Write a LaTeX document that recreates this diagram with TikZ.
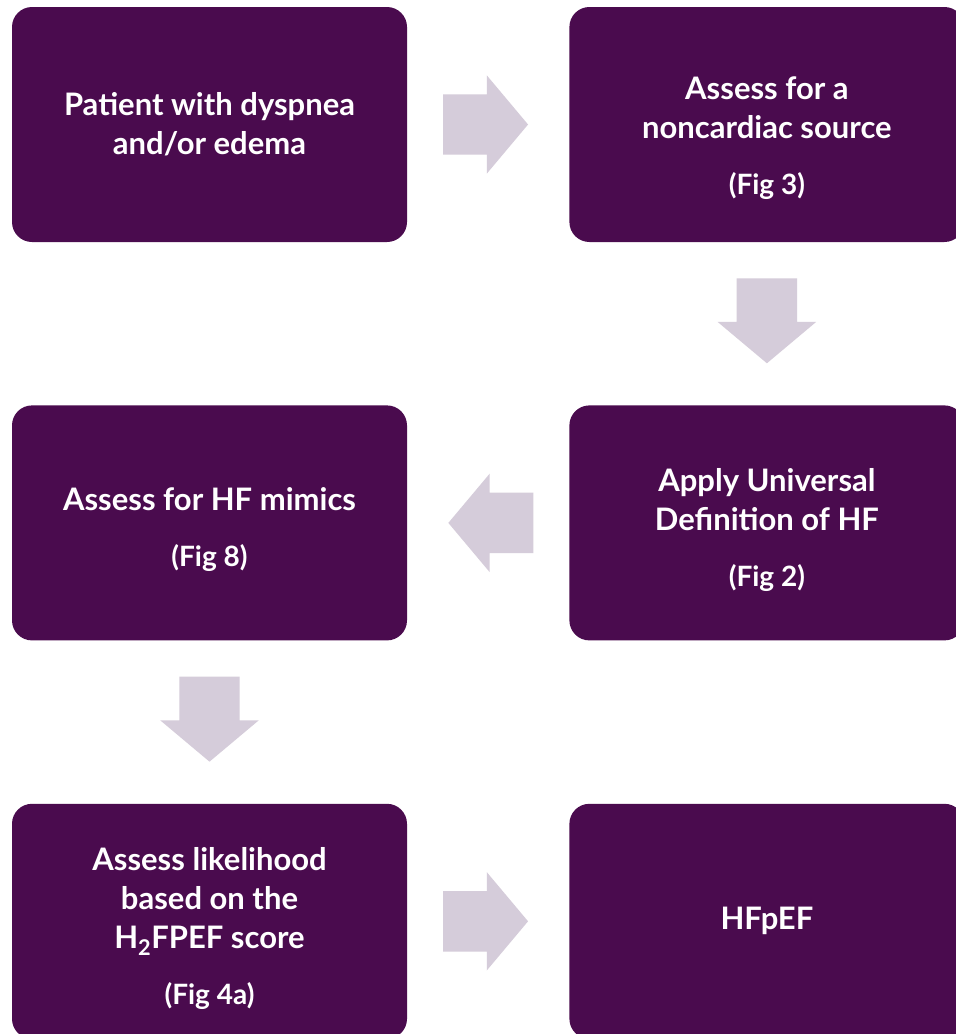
\documentclass[tikz,border=0pt]{standalone}
\usepackage{fontspec}
\setmainfont{Lato}
\usepackage{xcolor}
\usepackage{tikz}
\usetikzlibrary{positioning,calc,shapes.arrows}

\definecolor{plum}{HTML}{4A0B4E}
\definecolor{lilac}{HTML}{D5CCDA}
\newcommand{\figref}[1]{\\[17pt]{\fontsize{28}{30}\selectfont (Fig #1)}}
\newcommand{\padtop}[1]{\rule{0pt}{#1}}

\begin{document}
\begin{tikzpicture}[
  node distance=163pt and 162pt,
  stage/.style={rounded corners=20pt, fill=plum, text=white, minimum width=395pt, minimum height=235pt,
    inner sep=0pt, align=center, font=\bfseries\fontsize{31}{39}\selectfont},
  flow/.style={single arrow, fill=lilac, single arrow head extend=19pt, single arrow tip angle=100,
    minimum height=85pt, inner xsep=0pt, inner ysep=30pt, anchor=tail}
]
\useasboundingbox[fill=white] (0,0) rectangle (956pt,-1034pt);

\node[stage] (patient) at (209.5pt,-124.5pt) {Patient with dyspnea\\and/or edema};
\node[stage, right=of patient] (noncardiac) {\padtop{50pt}Assess for a\\noncardiac source\figref{3}};
\node[stage, below=of noncardiac] (universal) {\padtop{38pt}Apply Universal\\Definition of HF\figref{2}};
\node[stage, below=of patient] (mimics) {\padtop{37pt}Assess for HF mimics\figref{8}};
\node[stage, below=of mimics] (likelihood) {\padtop{37pt}Assess likelihood\\based on the\\H\textsubscript{2}FPEF score\figref{4a}};
\node[stage, right=of likelihood] (hfpef) {HFpEF};

% block arrows between the steps
\node[flow] (go1) at ($(patient.east)!0.22!(noncardiac.west)$) {};
\node[flow, rotate=-90] (go2) at ($(noncardiac.south)!0.22!(universal.north)$) {};
\node[flow, rotate=180] (go3) at ($(universal.west)!0.22!(mimics.east)$) {};
\node[flow, rotate=-90] (go4) at ($(mimics.south)!0.22!(likelihood.north)$) {};
\node[flow] (go5) at ($(likelihood.east)!0.22!(hfpef.west)$) {};
\end{tikzpicture}
\end{document}
